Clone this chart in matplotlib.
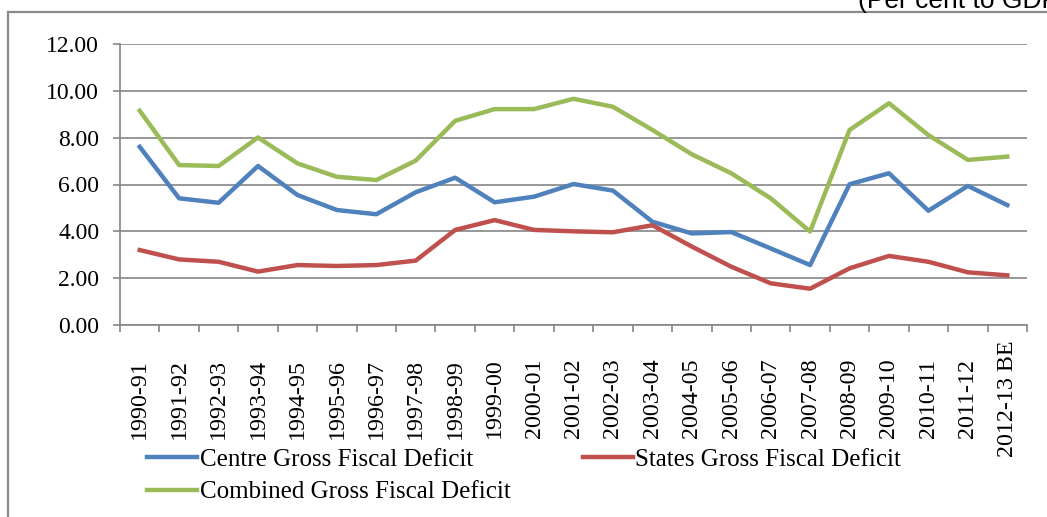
import numpy as np
import matplotlib
matplotlib.use("Agg")
import matplotlib.pyplot as plt
from matplotlib.lines import Line2D

years = ["1990-91", "1991-92", "1992-93", "1993-94", "1994-95", "1995-96",
         "1996-97", "1997-98", "1998-99", "1999-00", "2000-01", "2001-02",
         "2002-03", "2003-04", "2004-05", "2005-06", "2006-07", "2007-08",
         "2008-09", "2009-10", "2010-11", "2011-12", "2012-13 BE"]

centre = [7.61, 5.41, 5.22, 6.79, 5.55, 4.91, 4.73, 5.67, 6.29, 5.24, 5.48, 6.02,
          5.74, 4.41, 3.91, 3.97, 3.27, 2.56, 6.01, 6.48, 4.88, 5.94, 5.12]
states = [3.20, 2.80, 2.70, 2.28, 2.56, 2.52, 2.56, 2.75, 4.06, 4.48, 4.06, 4.00,
          3.96, 4.26, 3.35, 2.49, 1.78, 1.55, 2.42, 2.95, 2.70, 2.25, 2.12]
combined = [9.15, 6.83, 6.79, 8.01, 6.90, 6.33, 6.19, 7.02, 8.72, 9.22, 9.22, 9.66,
            9.32, 8.33, 7.29, 6.48, 5.41, 3.99, 8.33, 9.47, 8.11, 7.05, 7.19]

plt.rcParams['font.family'] = ['Liberation Serif', 'DejaVu Serif']

W, H = 1047, 517
fig = plt.figure(figsize=(W / 100, H / 100), dpi=100)
ax = fig.add_axes([120 / W, 1 - 325 / H, (1027 - 120) / W, (325 - 44) / H])

x = np.arange(len(years))
l1, = ax.plot(x, centre, color='#4F81BD', lw=3.2, solid_joinstyle='round', label='Centre Gross Fiscal Deficit')
l2, = ax.plot(x, states, color='#C0504D', lw=3.2, solid_joinstyle='round', label='States Gross Fiscal Deficit')
l3, = ax.plot(x, combined, color='#9BBB59', lw=3.2, solid_joinstyle='round', label='Combined Gross Fiscal Deficit')

ax.set_xlim(-0.5, len(years) - 0.5)
ax.set_ylim(0, 12)
ax.set_yticks(np.arange(0, 12.1, 2))
ax.set_yticklabels(["%.2f" % v for v in np.arange(0, 12.1, 2)])
ax.yaxis.grid(True, color='#868686', lw=1.2)
ax.set_axisbelow(True)

ax.set_xticks(x)
ax.set_xticklabels(years, rotation=90, ha='center', va='center')
ax.set_xticks(np.arange(-0.5, len(years)), minor=True)
ax.tick_params(axis='x', which='major', length=0, pad=53, labelsize=17.3)
ax.tick_params(axis='x', which='minor', length=5, color='#868686', width=1.2)
ax.tick_params(axis='y', length=5, color='#868686', width=1.2, pad=10, labelsize=17)

for s in ['top', 'right']:
    ax.spines[s].set_visible(False)
for s in ['left', 'bottom']:
    ax.spines[s].set_color('#868686')
    ax.spines[s].set_linewidth(1.2)

fig.legend([l1, l3, l2], [l1.get_label(), l3.get_label(), l2.get_label()],
           ncol=2, loc='upper left', bbox_to_anchor=(147 / W, 1 - 448 / H),
           frameon=False, fontsize=18, handlelength=2.0, handletextpad=0.1,
           columnspacing=2.9, labelspacing=0.42, borderpad=0, borderaxespad=0)

# outer chart frame
fig.add_artist(Line2D([8 / W, 1], [1 - 12 / H, 1 - 12 / H], color='#8A8A8A', lw=1.6))
fig.add_artist(Line2D([8 / W, 8 / W], [0, 1 - 12 / H], color='#8A8A8A', lw=1.6))

fig.text(858 / W, 1 - 8 / H, "(Per cent to GDP)", family='Liberation Sans',
         fontsize=19, ha='left', va='baseline')

fig.savefig("out.png", dpi=100)
